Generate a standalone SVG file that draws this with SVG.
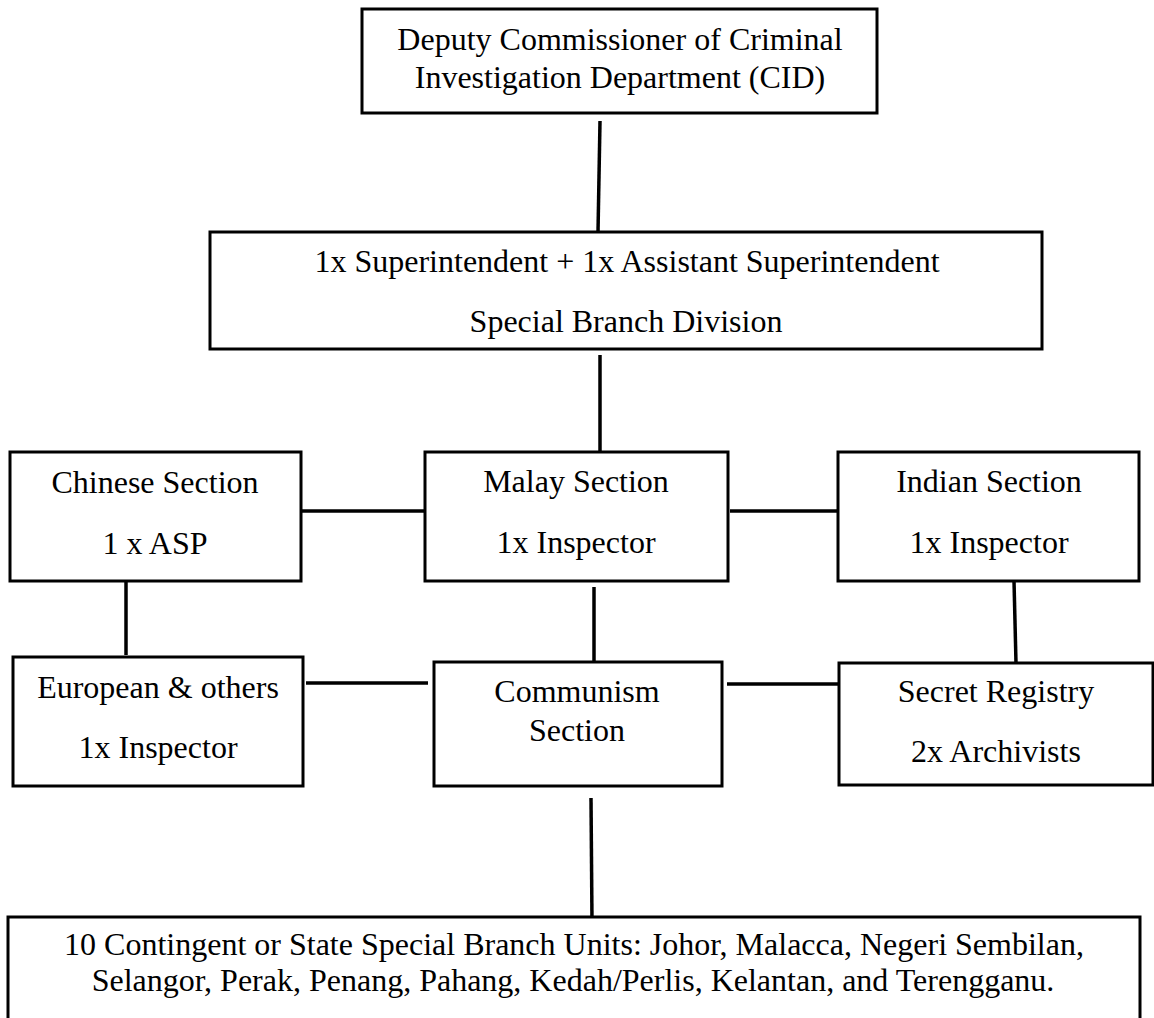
<svg xmlns="http://www.w3.org/2000/svg" width="1154" height="1018" viewBox="0 0 1154 1018">
<style>
.box{fill:#fff;stroke:#000;stroke-width:3}
.t{font-family:"Liberation Serif","Times New Roman",serif;font-size:32px;fill:#000;text-anchor:middle}
.c{stroke:#000;stroke-width:3.5;fill:none}
</style>
<rect width="1154" height="1018" fill="#fff"/>
<g id="connectors">
<line class="c" x1="600" y1="121" x2="598" y2="232"/>
<line class="c" x1="600" y1="355" x2="600" y2="452"/>
<line class="c" x1="298" y1="511" x2="425" y2="511"/>
<line class="c" x1="730" y1="511" x2="841" y2="511"/>
<line class="c" x1="126" y1="581" x2="126" y2="655"/>
<line class="c" x1="594" y1="587" x2="594" y2="661"/>
<line class="c" x1="1014" y1="581" x2="1016" y2="663"/>
<line class="c" x1="306" y1="683" x2="428" y2="683"/>
<line class="c" x1="727" y1="684" x2="839" y2="684"/>
<line class="c" x1="591" y1="798" x2="592" y2="922"/>
</g>
<g id="deputy">
<rect class="box" x="362" y="9" width="515" height="104"/>
<text class="t" x="620" y="50">Deputy Commissioner of Criminal</text>
<text class="t" x="620" y="88">Investigation Department (CID)</text>
</g>
<g id="superintendent">
<rect class="box" x="210" y="232" width="832" height="117"/>
<text class="t" x="627" y="272">1x Superintendent + 1x Assistant Superintendent</text>
<text class="t" x="626" y="332">Special Branch Division</text>
</g>
<g id="chinese">
<rect class="box" x="10" y="452" width="291" height="129"/>
<text class="t" x="155" y="493">Chinese Section</text>
<text class="t" x="155" y="554">1 x ASP</text>
</g>
<g id="malay">
<rect class="box" x="425" y="452" width="303" height="129"/>
<text class="t" x="576" y="492">Malay Section</text>
<text class="t" x="576" y="553">1x Inspector</text>
</g>
<g id="indian">
<rect class="box" x="838" y="452" width="301" height="129"/>
<text class="t" x="989" y="492">Indian Section</text>
<text class="t" x="989" y="553">1x Inspector</text>
</g>
<g id="european">
<rect class="box" x="13" y="657" width="290" height="129"/>
<text class="t" x="158" y="698">European &amp; others</text>
<text class="t" x="158" y="758">1x Inspector</text>
</g>
<g id="communism">
<rect class="box" x="434" y="662" width="288" height="124"/>
<text class="t" x="577" y="702">Communism</text>
<text class="t" x="577" y="741">Section</text>
</g>
<g id="secret">
<rect class="box" x="839" y="663" width="314" height="122"/>
<text class="t" x="996" y="702">Secret Registry</text>
<text class="t" x="996" y="762">2x Archivists</text>
</g>
<g id="state-units">
<rect class="box" x="8" y="917" width="1132" height="120"/>
<text class="t" x="574" y="955">10 Contingent or State Special Branch Units: Johor, Malacca, Negeri Sembilan,</text>
<text class="t" x="573" y="991">Selangor, Perak, Penang, Pahang, Kedah/Perlis, Kelantan, and Terengganu.</text>
</g>
</svg>
